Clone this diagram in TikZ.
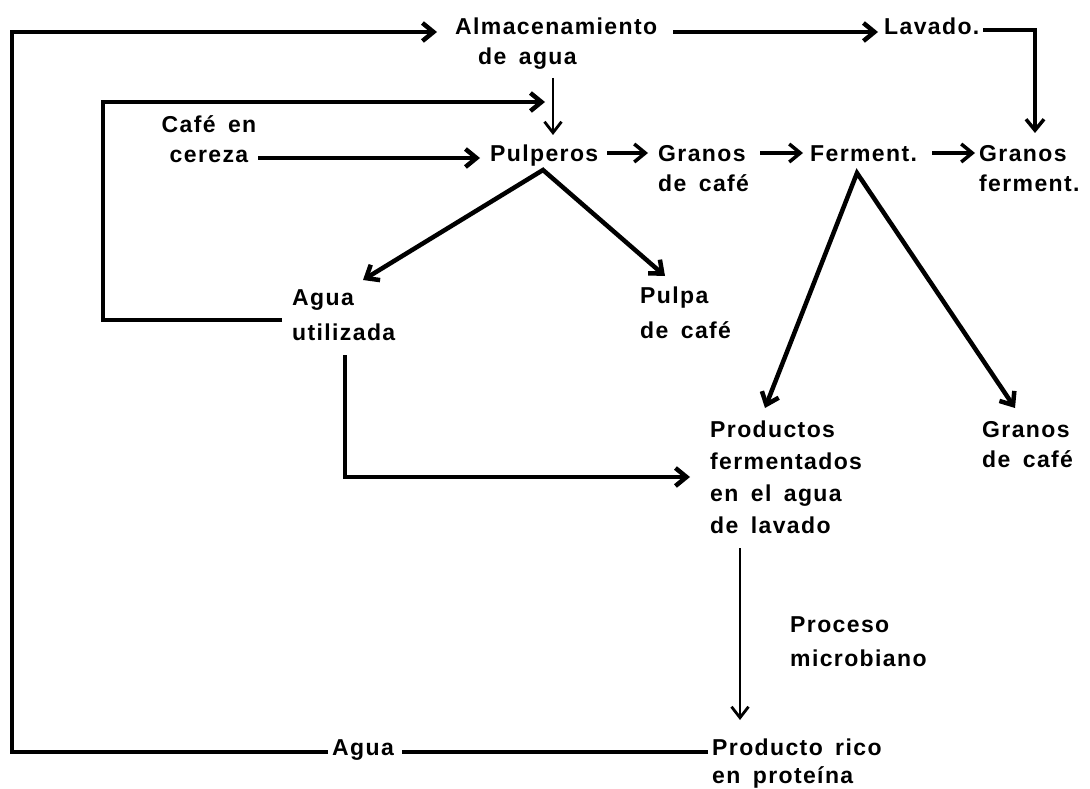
\documentclass[tikz,border=0pt]{standalone}
\usepackage{fontspec}
\setmainfont{Liberation Sans}[LetterSpace=6.0,WordSpace=1.6]
\usetikzlibrary{arrows.meta,calc}
% multi-line labels whose baseline is the baseline of the first line
\newcommand\stackL[1]{\begin{tabular}[t]{@{}l@{}}#1\end{tabular}}
\newcommand\stackC[1]{\begin{tabular}[t]{@{}c@{}}#1\end{tabular}}
\begin{document}
\begin{tikzpicture}[x=1pt,y=-1pt,
  lbl/.style={inner sep=0pt, anchor=base west,
    font=\fontsize{23}{32}\selectfont\bfseries},
  lead/.style={font=\fontsize{23}{#1}\selectfont\bfseries},
  flow/.style={line width=4.5pt, line join=miter},
  mid/.style={line width=3.5pt},
  fine/.style={line width=2.8pt},
  tip/.tip={Straight Barb[length=11pt,width=18pt]},
  ftip/.tip={Straight Barb[length=11pt,width=17pt]}]
\useasboundingbox (0,0) rectangle (1090,789);
\fill[white] (0,0) rectangle (1090,789);

% stages
\node[lbl,lead=30] (alm) at (455,35) {\stackL{Almacenamiento\\\hspace{23pt}de agua}};
\node[lbl] (lav) at (884,35) {Lavado.};
\node[lbl,lead=30,anchor=base] (cafe) at (209,133) {\stackC{Café en\\cereza}};
\node[lbl] (pul) at (490,162) {Pulperos};
\node[lbl,lead=30] (gr1) at (658,162) {\stackL{Granos\\de café}};
\node[lbl] (fer) at (810,162) {Ferment.};
\node[lbl,lead=31] (gr2) at (979,161) {\stackL{Granos\\ferment.}};
\node[lbl,lead=35] (agu) at (292,305) {\stackL{Agua\\utilizada}};
\node[lbl,lead=35] (pulpa) at (640,303) {\stackL{Pulpa\\de café}};
\node[lbl,lead=32] (prod) at (710,437) {\stackL{Productos\\fermentados\\en el agua\\de lavado}};
\node[lbl,lead=30] (gr3) at (982,437) {\stackL{Granos\\de café}};
\node[lbl,lead=34] (proc) at (790,632) {\stackL{Proceso\\microbiano}};
\node[lbl] (agw) at (332,755) {Agua};
\node[lbl,lead=28] (rico) at (712,755) {\stackL{Producto rico\\en proteína}};

% corners of the two return loops
\coordinate (outer) at (12,32);
\coordinate (inner) at (103,102);
% branching points under the pulpers and the fermentation
\coordinate (pulapex) at ($(pul.base west)+(53,8)$);
\coordinate (ferapex) at ($(fer.base west)+(47,11)$);

% water recycled back to storage
\draw[flow] ($(rico.base west)+(-4,-3)$) -- ($(agw.base west)+(70,-3)$);
\draw[flow,-tip] ($(agw.base west)+(-4,-3)$) -| (outer) -- ($(alm.base west)+(-18,-3)$);

% storage to washing and to the pulpers
\draw[flow,-tip] ($(alm.base west)+(218,-3)$) -- ($(lav.base west)+(-6,-3)$);
\draw[mid,-tip] ($(lav.base west)+(99,-5)$) -| ($(gr2.base west)+(56,-28)$);
\draw[fine,-ftip] ($(alm.base west)+(98,43)$) -- ($(pul.base west)+(63,-27)$);

% used water back to the pulpers
\draw[flow,-tip] ($(agu.base west)+(-10,15)$) -| (inner) -- ($(pul.base west)+(55,-60)$);

% main line
\draw[flow,-tip] ($(cafe.base)+(49,25)$) -- ($(pul.base west)+(-10,-4)$);
\draw[mid,-tip] ($(pul.base west)+(117,-9)$) -- ($(gr1.base west)+(-10,-9)$);
\draw[mid,-tip] ($(gr1.base west)+(102,-9)$) -- ($(fer.base west)+(-7,-9)$);
\draw[mid,-tip] ($(fer.base west)+(122,-9)$) -- ($(gr2.base west)+(-4,-8)$);

% by-products
\draw[flow,tip-tip] ($(agu.base west)+(71,-25)$) -- (pulapex) -- ($(pulpa.base west)+(25,-27)$);
\draw[flow,tip-tip] ($(prod.base west)+(55,-29)$) -- (ferapex) -- ($(gr3.base west)+(33,-29)$);
\draw[flow,-tip] ($(agu.base west)+(53,50)$) |- ($(prod.base west)+(-20,40)$);
\draw[fine,-ftip] ($(prod.base west)+(30,111)$) -- ($(rico.base west)+(28,-35)$);
\end{tikzpicture}
\end{document}
